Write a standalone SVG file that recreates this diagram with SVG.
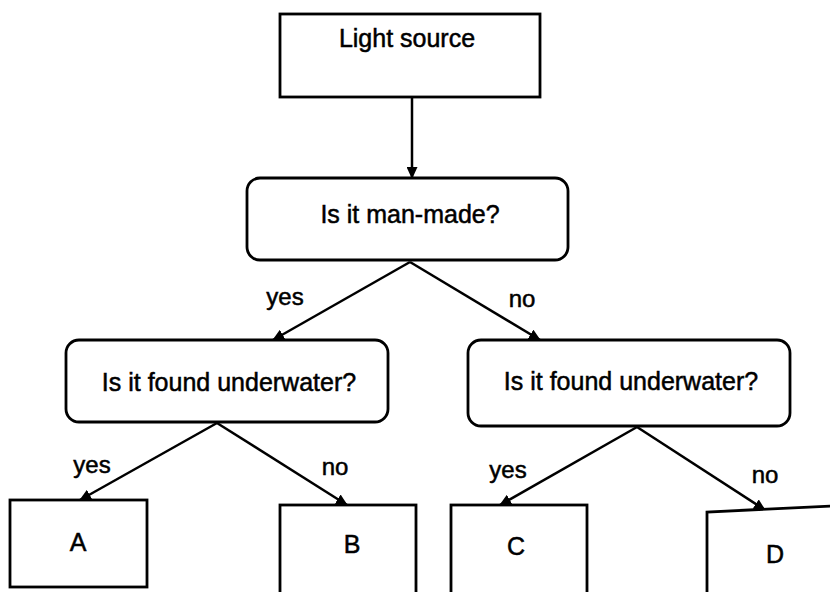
<svg xmlns="http://www.w3.org/2000/svg" width="830" height="592" viewBox="0 0 830 592">
<defs>
<marker id="ah" markerWidth="12" markerHeight="11" refX="11" refY="5.5" orient="auto" markerUnits="userSpaceOnUse">
<path d="M0,0 L12,5.5 L0,11 Z" fill="#000"/>
</marker>
<style>
.box{fill:#fff;stroke:#000;stroke-width:2.8}
.t{font-family:"Liberation Sans",Arial,sans-serif;font-size:25px;fill:#000;stroke:#000;stroke-width:0.5;text-anchor:middle}
.l{font-family:"Liberation Sans",Arial,sans-serif;font-size:24px;fill:#000;stroke:#000;stroke-width:0.5;text-anchor:middle}
.c{stroke:#000;stroke-width:2.5;fill:none;marker-end:url(#ah)}
</style>
</defs>
<rect width="830" height="592" fill="#fff"/>
<g id="connectors">
<line class="c" x1="412" y1="97" x2="412" y2="178"/>
<line class="c" x1="410" y1="262" x2="273" y2="340"/>
<line class="c" x1="410" y1="262" x2="540" y2="340"/>
<line class="c" x1="217" y1="423" x2="80" y2="500"/>
<line class="c" x1="217" y1="423" x2="347" y2="505"/>
<line class="c" x1="637" y1="427" x2="500" y2="505"/>
<line class="c" x1="637" y1="427" x2="765" y2="510"/>
<text class="l" x="285" y="305">yes</text>
<text class="l" x="522" y="307">no</text>
<text class="l" x="92" y="473">yes</text>
<text class="l" x="335" y="475">no</text>
<text class="l" x="508" y="478">yes</text>
<text class="l" x="765" y="483">no</text>
</g>
<g id="light-source">
<rect class="box" x="280" y="14" width="260" height="83"/>
<text class="t" x="407" y="47">Light source</text>
</g>
<g id="man-made">
<rect class="box" x="247" y="178" width="321" height="82" rx="13"/>
<text class="t" x="410" y="223">Is it man-made?</text>
</g>
<g id="underwater-left">
<rect class="box" x="66" y="340" width="322" height="82" rx="13"/>
<text class="t" x="229" y="391">Is it found underwater?</text>
</g>
<g id="underwater-right">
<rect class="box" x="468" y="340" width="322" height="86" rx="13"/>
<text class="t" x="631" y="390">Is it found underwater?</text>
</g>
<g id="A">
<rect class="box" x="10" y="500" width="137" height="87"/>
<text class="t" x="78" y="551">A</text>
</g>
<g id="B">
<rect class="box" x="280" y="505" width="136" height="90"/>
<text class="t" x="352" y="553">B</text>
</g>
<g id="C">
<rect class="box" x="451" y="505" width="136" height="90"/>
<text class="t" x="516" y="555">C</text>
</g>
<g id="D">
<path class="box" d="M707,600 L707,512 L832,506 L832,600"/>
<text class="t" x="775" y="563">D</text>
</g>
</svg>
